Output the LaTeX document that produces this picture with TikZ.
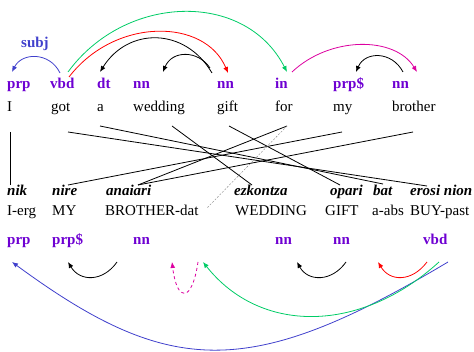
\documentclass[tikz,border=0pt]{standalone}
\usepackage{fontspec}
\setmainfont{Liberation Serif}
\usetikzlibrary{arrows.meta}
\definecolor{tagc}{RGB}{110,0,210}
\definecolor{bluec}{RGB}{64,64,204}
\definecolor{greenc}{RGB}{0,204,102}
\definecolor{magc}{RGB}{220,0,160}
\begin{document}
\begin{tikzpicture}[x=1pt,y=-1pt,
  every node/.style={inner sep=0pt, anchor=base west, font=\fontsize{15}{18}\selectfont},
  tag/.style={text=tagc, font=\fontsize{15}{18}\selectfont\bfseries},
  bq/.style={font=\fontsize{15}{18}\selectfont\bfseries\itshape},
  arc/.style={line width=0.8pt, -{Latex[length=6pt,width=5pt]}},
  al/.style={line width=0.8pt},
]
\useasboundingbox (0,0) rectangle (474,352);
% top tags
\node[tag] (t1) at (7,89) {prp};
\node[tag] (t2) at (50,89) {vbd};
\node[tag] (t3) at (97,89) {dt};
\node[tag] (t4) at (133,89) {nn};
\node[tag] (t5) at (217,89) {nn};
\node[tag] (t6) at (275,89) {in};
\node[tag] (t7) at (333,89) {prp\$};
\node[tag] (t8) at (392,89) {nn};
% top words
\node (w1) at (7,112) {I};
\node (w2) at (51,112) {got};
\node (w3) at (97,112) {a};
\node (w4) at (133,112) {wedding};
\node (w5) at (217,112) {gift};
\node (w6) at (275,112) {for};
\node (w7) at (333,112) {my};
\node (w8) at (392,112) {brother};
% basque words
\node[bq] (b1) at (7,196) {nik};
\node[bq] (b2) at (52,196) {nire};
\node[bq] (b3) at (106,196) {anaiari};
\node[bq] (b4) at (234,196) {ezkontza};
\node[bq] (b5) at (330,196) {opari};
\node[bq] (b6) at (373,196) {bat};
\node[bq] (b7) at (410,196) {erosi nion};
% glosses
\node (g1) at (7,216) {I-erg};
\node (g2) at (52,216) {MY};
\node (g3) at (105,216) {BROTHER-dat};
\node (g4) at (235,216) {WEDDING};
\node (g5) at (325,216) {GIFT};
\node (g6) at (372,216) {a-abs};
\node (g7) at (410,216) {BUY-past};
% bottom tags
\node[tag] (u1) at (7,245) {prp};
\node[tag] (u2) at (52,245) {prp\$};
\node[tag] (u3) at (133,245) {nn};
\node[tag] (u4) at (275,245) {nn};
\node[tag] (u5) at (333,245) {nn};
\node[tag] (u6) at (423,245) {vbd};
% subj label
\node[text=bluec, font=\fontsize{15}{18}\selectfont\bfseries] (subj) at (21,48) {subj};
% alignment anchor points
\coordinate (aI) at (10,132);
\coordinate (aGot) at (68,132);
\coordinate (aA) at (100,126);
\coordinate (aWed) at (172,126);
\coordinate (aGift) at (229,126);
\coordinate (aFor) at (287,126);
\coordinate (aMy) at (342,132);
\coordinate (aBro) at (413,132);
\coordinate (zNik) at (10,185);
\coordinate (zNire) at (68,185);
\coordinate (zAna) at (138,185);
\coordinate (zEzk) at (252,185);
\coordinate (zOpa) at (340,185);
\coordinate (zBat) at (383,184);
\coordinate (zErosi) at (427,186);
\coordinate (zDat) at (207,208);
\draw[al] (aI) -- (zNik);
\draw[al] (aGot) -- (zErosi);
\draw[al] (aA) -- (zBat);
\draw[al] (aWed) -- (zEzk);
\draw[al] (aGift) -- (zOpa);
\draw[al] (aFor) -- (zAna);
\draw[al] (aMy) -- (zNire);
\draw[al] (aBro) -- (zAna);
\draw[line width=0.4pt, gray, dash pattern=on 2pt off 1.5pt] (aFor) -- (zDat);
% top arcs
\coordinate (sVbd) at (60,73);
\coordinate (ePrp) at (12,72);
\draw[arc, bluec] (sVbd) .. controls (50,52) and (22,52) .. (ePrp);
\coordinate (sVbdG) at (68,72);
\coordinate (eIn) at (287,72);
\draw[arc, greenc] (sVbdG) .. controls (125,-6) and (245,-10) .. (eIn);
\coordinate (sVbdR) at (69,77);
\coordinate (eGift) at (228,73);
\draw[arc, red] (sVbdR) .. controls (115,17) and (205,18) .. (eGift);
\coordinate (sGift) at (212,73);
\coordinate (eDt) at (100,72);
\draw[arc, black] (sGift) .. controls (185,27) and (128,27) .. (eDt);
\coordinate (sGift2) at (210,68);
\coordinate (eWed) at (163,72);
\draw[arc, black] (sGift2) .. controls (198,50) and (172,50) .. (eWed);
\coordinate (sIn) at (292,72);
\coordinate (eBro) at (417,72);
\draw[arc, magc] (sIn) .. controls (330,36) and (395,36) .. (eBro);
\coordinate (sBro) at (403,72);
\coordinate (eMy) at (356,72);
\draw[arc, black] (sBro) .. controls (392,51) and (365,51) .. (eMy);
% bottom arcs
\coordinate (sV1) at (448,262);
\coordinate (ePrpB) at (12,262);
\draw[arc, bluec] (sV1) .. controls (250,380) and (170,378) .. (ePrpB);
\coordinate (sV2) at (439,262);
\coordinate (eNn1) at (203,262);
\draw[arc, greenc] (sV2) .. controls (360,334) and (260,334) .. (eNn1);
\coordinate (sV3) at (427,262);
\coordinate (eNn3) at (378,262);
\draw[arc, red] (sV3) .. controls (412,282) and (390,282) .. (eNn3);
\coordinate (sNn3) at (346,262);
\coordinate (eNn2) at (297,262);
\draw[arc, black] (sNn3) .. controls (332,282) and (308,282) .. (eNn2);
\coordinate (sNn1) at (117,262);
\coordinate (ePs) at (68,262);
\draw[arc, black] (sNn1) .. controls (103,282) and (80,282) .. (ePs);
\coordinate (sD) at (198,262);
\coordinate (eD) at (172,262);
\draw[arc, magc, dashed] (sD) .. controls (192,303) and (177,303) .. (eD);
\end{tikzpicture}
\end{document}
